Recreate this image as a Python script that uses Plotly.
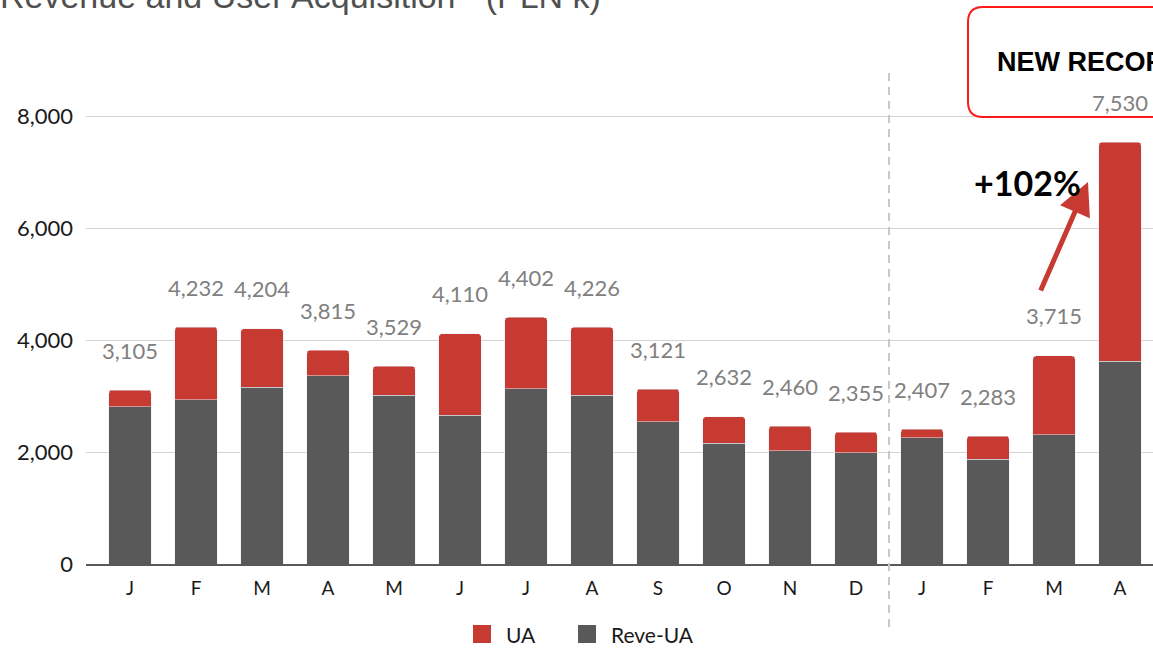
import plotly.graph_objects as go

# Monthly figures (PLN k): total revenue and the part left after user acquisition
months = ["J", "F", "M", "A", "M", "J", "J", "A", "S", "O", "N", "D", "J", "F", "M", "A"]
total = [3105, 4232, 4204, 3815, 3529, 4110, 4402, 4226, 3121, 2632, 2460, 2355, 2407, 2283, 3715, 7530]
reve_ua = [2810, 2930, 3155, 3360, 3010, 2660, 3130, 3010, 2540, 2160, 2020, 1990, 2255, 1875, 2305, 3625]
ua = [t - r for t, r in zip(total, reve_ua)]
y_ticks = [0, 2000, 4000, 6000, 8000]

RED = "#c63a32"
DARK = "#595959"
LABEL_GREY = "#808080"
FONT = "Lato"

x = list(range(len(months)))

fig = go.Figure()
fig.add_trace(go.Bar(x=x, y=reve_ua, name="Reve-UA", marker_color=DARK, width=0.64, showlegend=False))
fig.add_trace(go.Bar(x=x, y=ua, name="UA", marker_color=RED, width=0.64, showlegend=False))

# Total value above each stacked bar
for xi, t in zip(x, total):
    fig.add_annotation(x=xi, y=t, text=f"{t:,}", showarrow=False, yshift=40,
                       yanchor="middle", font=dict(family=FONT, size=22, color=LABEL_GREY))

# Pixel helpers for the layout (plot area: left 86, top 60, 1067 x 504)
W, H = 1067.0, 504.0
L, T = 86.0, 60.0


def px(xp):
    return (xp - L) / W


def py(yp):
    return (T + H - yp) / H


# Year separator
fig.add_shape(type="line", xref="x", yref="paper", x0=11.5, x1=11.5, y0=py(627), y1=py(73),
              line=dict(color="#c8c8c8", width=2, dash="8px,6px"))

# Growth arrow and callout
fig.add_annotation(x=14.515, y=6821, ax=-48, ay=110, text="", showarrow=True,
                   arrowhead=2, arrowsize=1.3, arrowwidth=5, arrowcolor=RED, standoff=0)
fig.add_annotation(x=13.6, y=6821, xref="x", yref="y", text="<b>+102%</b>", showarrow=False,
                   font=dict(family=FONT, size=34, color="#000000"), xanchor="center", yanchor="middle")

# Record box in the top-right corner
bx0, by0, bx1, by1, r = 968, 7, 1175, 117, 15
box_path = (
    f"M {px(bx0 + r)},{py(by0)} L {px(bx1)},{py(by0)} L {px(bx1)},{py(by1)} "
    f"L {px(bx0 + r)},{py(by1)} Q {px(bx0)},{py(by1)} {px(bx0)},{py(by1 - r)} "
    f"L {px(bx0)},{py(by0 + r)} Q {px(bx0)},{py(by0)} {px(bx0 + r)},{py(by0)} Z"
)
fig.add_shape(type="path", xref="paper", yref="paper", path=box_path,
              line=dict(color="#ff1a1a", width=2), fillcolor="rgba(0,0,0,0)")
fig.add_annotation(xref="paper", yref="paper", x=px(995), y=py(62), text="<b>NEW RECORD</b>",
                   showarrow=False, xanchor="left", yanchor="middle",
                   font=dict(family="Liberation Sans", size=27, color="#000000"))

# Title
fig.add_annotation(xref="paper", yref="paper", x=px(-2), y=py(17), xanchor="left", yanchor="bottom",
                   text="Revenue and User Acquisition - (PLN k)", showarrow=False,
                   font=dict(family="Liberation Sans", size=34, color="#505050"))

# Legend: coloured squares with labels
legend_items = [("UA", RED, 473), ("Reve-UA", DARK, 578)]
for label, color, lx in legend_items:
    fig.add_shape(type="rect", xref="paper", yref="paper",
                  x0=px(lx), x1=px(lx + 18), y0=py(643), y1=py(625),
                  fillcolor=color, line=dict(width=0))
    fig.add_annotation(xref="paper", yref="paper", x=px(lx + 31), y=py(634), text=label,
                       showarrow=False, xanchor="left", yanchor="middle",
                       font=dict(family=FONT, size=21, color="#1a1a1a"))

fig.update_layout(
    width=1153, height=648,
    margin=dict(l=86, r=0, t=60, b=84),
    barmode="stack",
    barcornerradius=3,
    plot_bgcolor="white", paper_bgcolor="white",
    font=dict(family=FONT, color="#1a1a1a"),
    showlegend=False,
    xaxis=dict(range=[-0.667, 15.5], tickvals=x, ticktext=months, showgrid=False,
               showline=True, linecolor=DARK, linewidth=1.5, ticks="",
               tickfont=dict(family=FONT, size=19, color="#1a1a1a"), ticklabelstandoff=6,
               automargin=False, fixedrange=True),
    yaxis=dict(range=[0, 9000], tickvals=y_ticks, tickformat=",", showgrid=True,
               gridcolor="#d4d4d4", gridwidth=1.3, zeroline=False, showline=False,
               tickfont=dict(family=FONT, size=22, color="#1a1a1a"), ticklabelstandoff=12,
               automargin=False, fixedrange=True),
)

fig.write_html("out.html")
